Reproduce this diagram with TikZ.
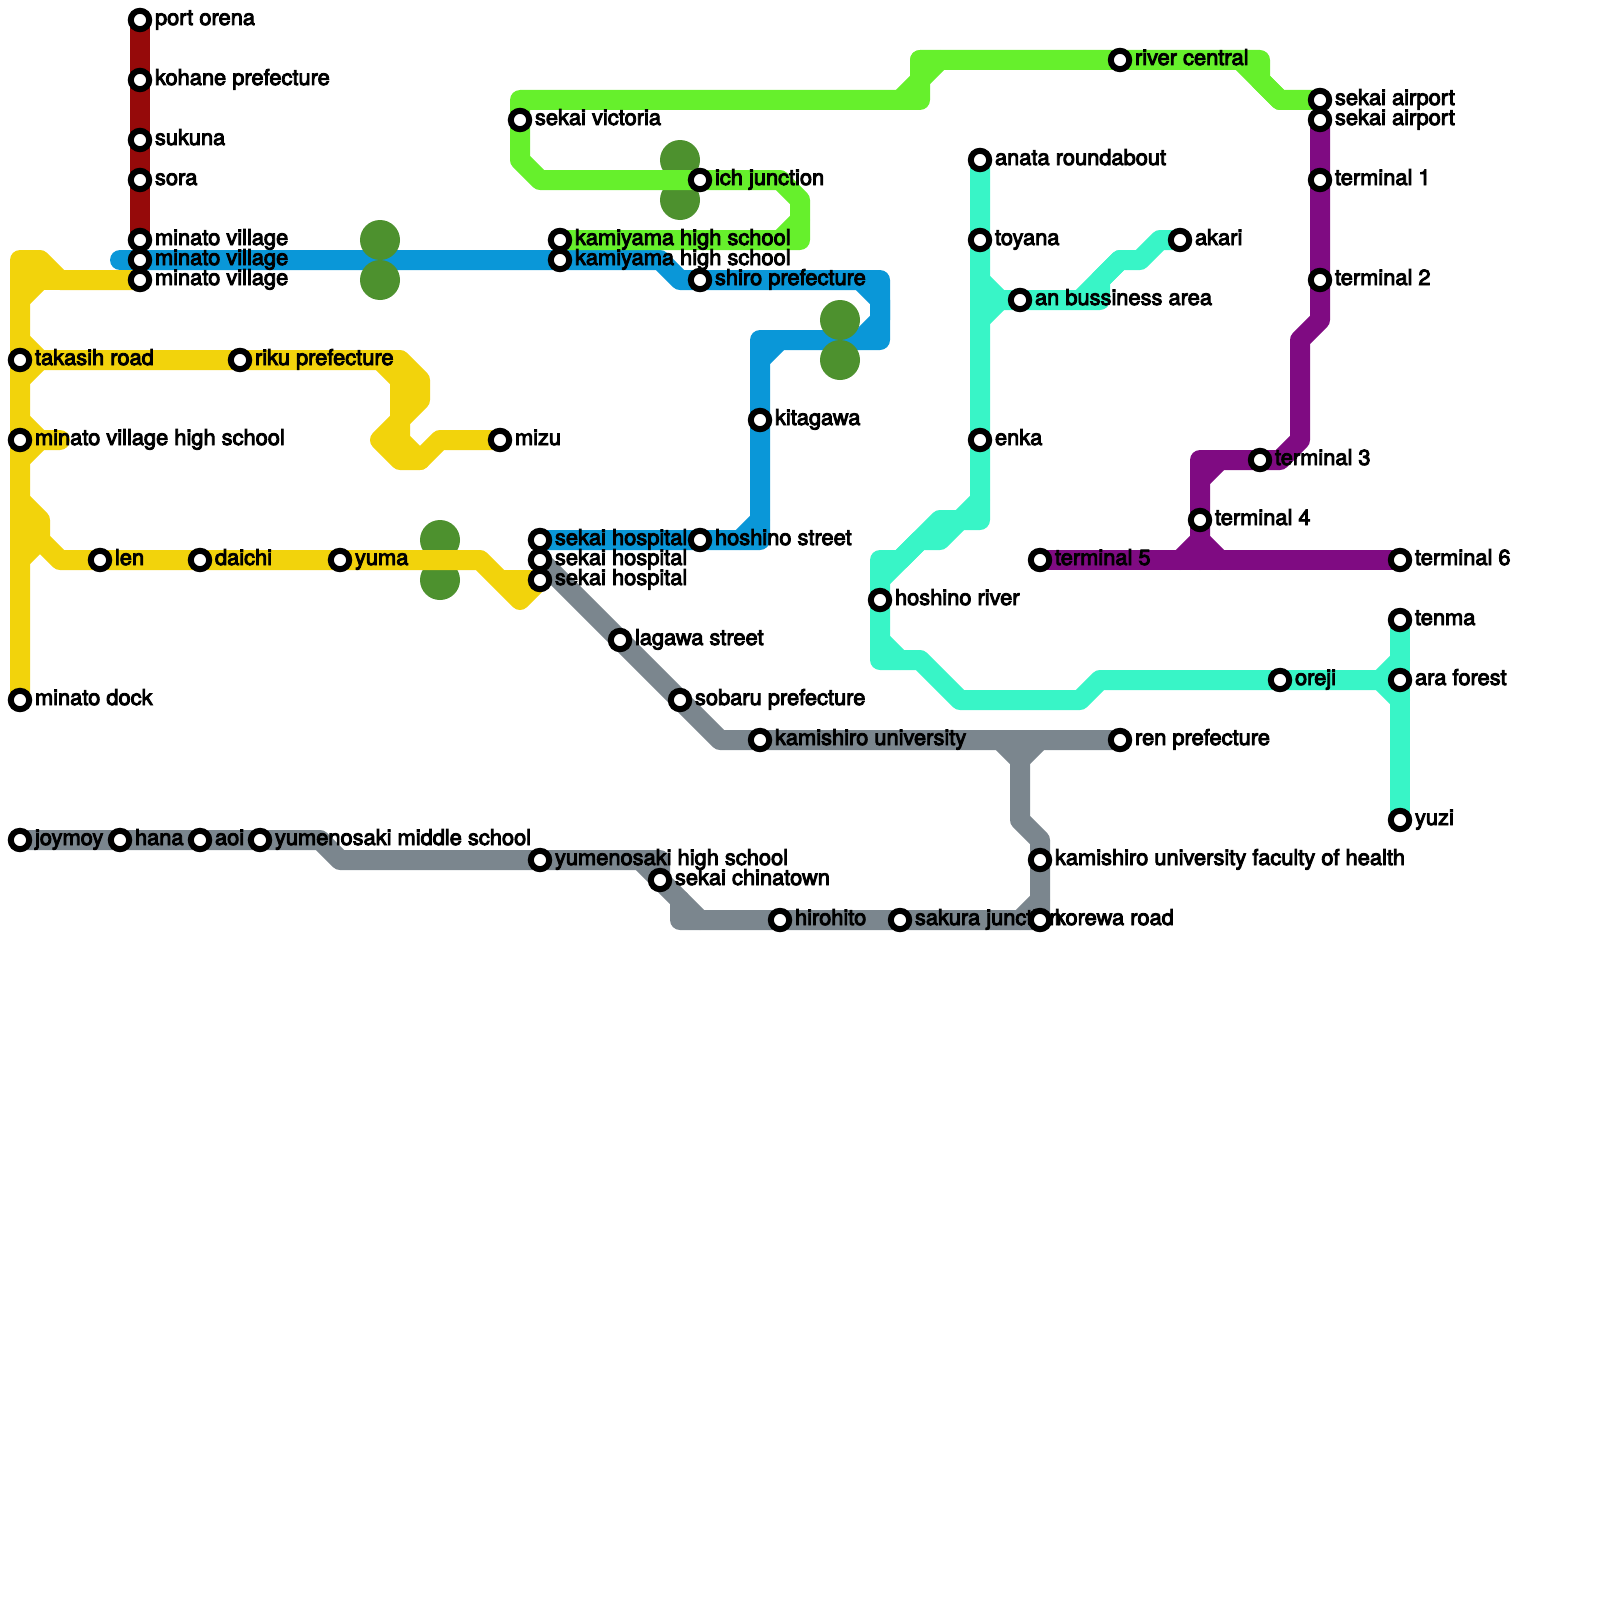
\documentclass[tikz,border=0pt]{standalone}
\usepackage{fontspec}
\newfontfamily\lab[FakeBold=4]{TeX Gyre Heros}
\definecolor{cyel}{HTML}{F2D30C}
\definecolor{cred}{HTML}{960A0A}
\definecolor{cblu}{HTML}{0A97D8}
\definecolor{clim}{HTML}{66F02C}
\definecolor{caqu}{HTML}{38F5C7}
\definecolor{cpur}{HTML}{7F0B82}
\definecolor{cgry}{HTML}{7B868E}
\definecolor{cdot}{HTML}{4D912E}
\tikzset{
  route/.style={line width=10pt,line cap=round,line join=round},
  dotmark/.style={circle,fill=cdot,draw=none,minimum size=20pt,inner sep=0pt},
  stopmark/.style={circle,fill=white,draw=black,line width=3pt,minimum size=9.2pt,inner sep=0pt,outer sep=0pt},
  stoplabel/.style={anchor=base west,inner sep=0pt,outer sep=0pt,font=\lab\fontsize{10.92pt}{12pt}\selectfont}
}
\newcommand{\allstops}{%
 portorena/140/20/port orena,kohane/140/80/kohane prefecture,sukuna/140/140/sukuna,sora/140/180/sora,
 minatoA/140/240/minato village,minatoB/140/260/minato village,minatoC/140/280/minato village,
 takasih/20/360/takasih road,riku/240/360/riku prefecture,minatohs/20/440/minato village high school,
 mizu/500/440/mizu,len/100/560/len,daichi/200/560/daichi,yuma/340/560/yuma,hospC/540/580/sekai hospital,dock/20/700/minato dock,
 hospA/540/540/sekai hospital,kamiB/560/260/kamiyama high school,shiro/700/280/shiro prefecture,kitagawa/760/420/kitagawa,hoshinost/700/540/hoshino street,
 hospB/540/560/sekai hospital,lagawa/620/640/lagawa street,sobaru/680/700/sobaru prefecture,kamishiro/760/740/kamishiro university,ren/1120/740/ren prefecture,
 faculty/1040/860/kamishiro university faculty of health,korewa/1040/920/korewa road,sakura/900/920/sakura junction,hirohito/780/920/hirohito,
 chinatown/660/880/sekai chinatown,yumehs/540/860/yumenosaki high school,yumems/260/840/yumenosaki middle school,aoi/200/840/aoi,hana/120/840/hana,joymoy/20/840/joymoy,
 victoria/520/120/sekai victoria,ich/700/180/ich junction,kamiA/560/240/kamiyama high school,river/1120/60/river central,airportA/1320/100/sekai airport,
 airportB/1320/120/sekai airport,termA/1320/180/terminal 1,termB/1320/280/terminal 2,termC/1260/460/terminal 3,termD/1200/520/terminal 4,termE/1040/560/terminal 5,termF/1400/560/terminal 6,
 anata/980/160/anata roundabout,toyana/980/240/toyana,bussiness/1020/300/an bussiness area,akari/1180/240/akari,enka/980/440/enka,hoshinorv/880/600/hoshino river,
 oreji/1280/680/oreji,tenma/1400/620/tenma,araforest/1400/680/ara forest,yuzi/1400/820/yuzi}
\begin{document}
\begin{tikzpicture}[x=0.5pt,y=-0.5pt]
\useasboundingbox (0,0) rectangle (1600,1600);
\foreach \n/\x/\y/\t in \allstops {\coordinate (p\n) at (\x,\y);}
% dark red
\draw[route,cred] (pportorena) -- (pminatoA);
% blue
\coordinate (bluestart) at (120,260);
\draw[route,cblu] (bluestart) -- (660,260) -- (680,280) -- (880,280) -- (880,340) -- (760,340) -- (760,540) -- (phospA);
\draw[route,cblu] (860,280) -- (880,300) -- (880,320) -- (860,340);
\draw[route,cblu] (780,340) -- (760,360);
\draw[route,cblu] (760,520) -- (740,540);
% interchange dots
\node[dotmark] (dotA) at (380,240) {};
\node[dotmark] (dotB) at (380,280) {};
\node[dotmark] (dotC) at (840,320) {};
\node[dotmark] (dotD) at (840,360) {};
\node[dotmark] (dotE) at (440,540) {};
\node[dotmark] (dotF) at (440,580) {};
\node[dotmark] (dotG) at (680,160) {};
\node[dotmark] (dotH) at (680,200) {};
% grey
\draw[route,cgry] (phospB) -- (720,740) -- (pren);
\draw[route,cgry] (1000,740) -- (1020,760) -- (1020,820) -- (1040,840) -- (pkorewa) -- (680,920) -- (680,900);
\draw[route,cgry] (1040,740) -- (1020,760);
\draw[route,cgry] (1040,900) -- (1020,920);
\draw[route,cgry] (pjoymoy) -- (320,840) -- (340,860) -- (660,860) -- (pchinatown);
\draw[route,cgry] (640,860) -- (700,920);
% yellow
\draw[route,cyel] (pminatoC) -- (60,280) -- (40,260) -- (20,260) -- (pdock);
\draw[route,cyel] (pminatoC) -- (20,280);
\draw[route,cyel] (40,280) -- (20,300);
\draw[route,cyel] (20,340) -- (40,360) -- (400,360) -- (420,380) -- (420,400) -- (380,440) -- (400,460) -- (420,460) -- (440,440) -- (pmizu);
\draw[route,cyel] (40,360) -- (20,380);
\draw[route,cyel] (380,360) -- (400,380) -- (400,440) -- (420,460);
\draw[route,cyel] (20,420) -- (40,440) -- (60,440);
\draw[route,cyel] (40,440) -- (20,460);
\draw[route,cyel] (20,500) -- (40,520) -- (40,540) -- (60,560) -- (480,560) -- (520,600) -- (phospC) -- (500,580);
\draw[route,cyel] (40,540) -- (20,560);
% lime
\draw[route,clim] (900,100) -- (920,80) -- (940,60);
\draw[route,clim] (920,60) -- (1260,60) -- (1260,80) -- (1280,100);
\draw[route,clim] (1240,60) -- (1280,100) -- (pairportA);
\draw[route,clim] (920,60) -- (920,100) -- (520,100) -- (520,160) -- (540,180) -- (780,180) -- (800,200) -- (800,240) -- (pkamiA);
\draw[route,clim] (800,220) -- (780,240);
% purple
\draw[route,cpur] (pairportB) -- (1320,320) -- (1300,340) -- (1300,440) -- (1280,460) -- (1200,460) -- (1200,560);
\draw[route,cpur] (1220,460) -- (1200,480);
\draw[route,cpur] (ptermE) -- (ptermF);
\draw[route,cpur] (1180,560) -- (1200,540) -- (1220,560);
% aqua
\draw[route,caqu] (panata) -- (980,520) -- (940,520) -- (900,560) -- (880,560) -- (880,660) -- (920,660) -- (960,700) -- (1080,700) -- (1100,680) -- (1380,680);
\draw[route,caqu] (980,500) -- (960,520) -- (940,540) -- (920,540) -- (880,580);
\draw[route,caqu] (880,640) -- (900,660);
\draw[route,caqu] (ptenma) -- (pyuzi);
\draw[route,caqu] (1400,660) -- (1380,680) -- (1400,700);
\draw[route,caqu] (980,280) -- (1000,300) -- (1100,300) -- (1100,280) -- (1120,260) -- (1140,260) -- (1160,240) -- (pakari);
\draw[route,caqu] (1000,300) -- (980,320);
\draw[route,caqu] (1080,300) -- (1120,260);
% labels, then stops
\foreach \n/\x/\y/\t in \allstops {\node[stoplabel] (l\n) at ([shift={(15,5)}]p\n) {\t};}
\foreach \n/\x/\y/\t in \allstops {\node[stopmark] (\n) at (p\n) {};}
\end{tikzpicture}
\end{document}
